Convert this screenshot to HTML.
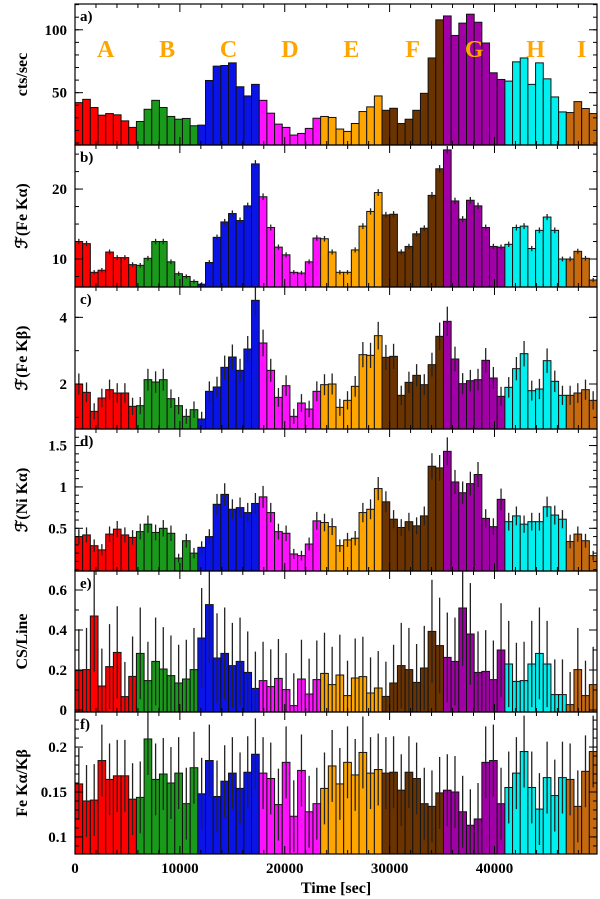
<!DOCTYPE html>
<html><head><meta charset="utf-8">
<style>
html,body{margin:0;padding:0;background:#fff;}
svg{display:block;font-family:"Liberation Serif",serif;}
</style></head>
<body>
<svg id="chart" width="600" height="899" viewBox="0 0 600 899" xmlns="http://www.w3.org/2000/svg"></svg>
<script>
const segColors = ["#ff0000","#1a9a1a","#0a14e6","#ff10ff","#ffa500","#6b3300","#a000a6","#00f0f0","#c66a10"];
const segLetters = ["A","B","C","D","E","F","G","H","I"];
const binSec = 732;
const xTickLabels = [0,10000,20000,30000,40000];

const rateA = [42.1,44.7,38.2,32.1,33.4,32.4,27.6,22.4, 27.1,36.8,43.9,38.2,31.1,28.9,29.5,23.7, 24.2,59.7,71.1,71.6,73.7,54.7,47.4,56.6, 43.9,33.7,25,22.4,16.3,17.6,21.6,29.7, 31.1,30.3,21.1,19.2,25.5,35,38.7,47.4, 36,37.6,25.5,28.9,36,49.5,77.6,107.9, 111,95.5,105.3,112.4,106,89.5,65.8,60.5, 59.2,74.5,77.6,56.6,73.7,61,46.6,34.7, 34.2,42.9,37.4,33.4];
const feKa = [12.5,12.2,8.1,8.4,11.0,10.2,10.2,9.2, 9.1,10.1,12.5,12.5,9.6,7.9,7.5,6.8, 6.4,9.5,13.1,15.3,16.5,15.5,17.6,23.6, 18.9,14.5,11.7,10.6,8.1,8.0,9.6,13.0, 12.9,11.0,8.1,8.1,11.3,14.7,16.8,19.5, 16.3,16.4,11.0,11.8,13.6,14.4,19.1,22.9, 25.6,18.3,15.7,18.4,17.6,14.5,11.8,11.7, 12.1,14.5,14.7,11.5,14.1,16.0,14.1,10.0, 10.0,11.1,10.1,7.0];
const feKb = [2.0,1.75,1.18,1.58,1.83,1.73,1.73,1.33, 1.35,2.13,2.06,2.13,1.56,1.35,1.03,1.23, 0.95,1.78,1.91,2.5,2.81,2.41,3.05,4.51, 3.23,2.41,1.6,1.95,1.03,1.43,1.25,1.78, 1.98,2.0,1.3,1.51,1.93,2.88,2.86,3.45, 2.8,2.83,1.66,2.05,2.26,1.98,2.58,3.43, 3.88,2.75,2.01,2.1,2.13,2.71,2.18,1.63, 1.9,2.46,2.91,1.8,1.85,2.7,2.08,1.66, 1.66,1.73,1.83,1.51];
const niKa = [0.40,0.42,0.29,0.24,0.43,0.49,0.42,0.39, 0.46,0.55,0.45,0.5,0.44,0.14,0.35,0.2, 0.27,0.4,0.79,0.91,0.73,0.75,0.69,0.8, 0.88,0.69,0.46,0.44,0.19,0.17,0.31,0.59, 0.57,0.52,0.29,0.36,0.38,0.69,0.73,0.98, 0.82,0.61,0.51,0.58,0.53,0.65,1.25,1.23, 1.43,1.06,0.93,1.04,1.15,0.62,0.52,0.85, 0.58,0.65,0.55,0.58,0.58,0.76,0.66,0.61, 0.34,0.43,0.35,0.17];
const csLine = [0.197,0.202,0.47,0.12,0.217,0.288,0.067,0.168, 0.283,0.147,0.243,0.205,0.172,0.135,0.155,0.202, 0.36,0.527,0.26,0.283,0.222,0.243,0.188,0.108, 0.147,0.117,0.158,0.102,0.022,0.155,0.08,0.152, 0.183,0.127,0.175,0.072,0.16,0.167,0.085,0.11, 0.068,0.135,0.222,0.202,0.138,0.21,0.393,0.322, 0.263,0.243,0.51,0.38,0.188,0.193,0.152,0.3, 0.23,0.143,0.147,0.23,0.283,0.23,0.077,0.077, 0.027,0.202,0.072,0.127];
const ratio = [0.159,0.14,0.141,0.185,0.164,0.168,0.168,0.142, 0.144,0.209,0.164,0.17,0.16,0.171,0.137,0.177, 0.148,0.185,0.145,0.162,0.171,0.154,0.172,0.192, 0.171,0.165,0.136,0.183,0.123,0.174,0.128,0.137, 0.154,0.179,0.159,0.183,0.169,0.194,0.171,0.175, 0.171,0.172,0.152,0.172,0.165,0.137,0.134,0.149, 0.152,0.15,0.128,0.113,0.12,0.183,0.185,0.137, 0.155,0.171,0.195,0.155,0.131,0.166,0.146,0.166, 0.164,0.134,0.173,0.195];

const NS="http://www.w3.org/2000/svg";
const svg=document.getElementById('chart');
const L=75,R=597;
const xMax=rateA.length*binSec;
const xs=t=>L+(t/xMax)*(R-L);
function mk(tag,attrs,parent){const e=document.createElementNS(NS,tag);for(const k in attrs)e.setAttribute(k,attrs[k]);(parent||svg).appendChild(e);return e;}

const panels=[
 {key:"a",data:rateA,top:4,bot:145,ymin:8.4,ymax:120.5,major:[50,100],minorStep:10,err:0,title:"cts/sec"},
 {key:"b",data:feKa,top:145,bot:287,ymin:6.0,ymax:26.3,major:[10,20],minorStep:2.5,err:0.4,title:"\u2131(Fe K\u03b1)"},
 {key:"c",data:feKb,top:287,bot:429,ymin:0.65,ymax:4.91,major:[2,4],minorStep:1,err:0.35,title:"\u2131(Fe K\u03b2)"},
 {key:"d",data:niKa,top:429,bot:571,ymin:-0.016,ymax:1.7,major:[0.5,1,1.5],minorStep:0.1,err:0.13,title:"\u2131(Ni K\u03b1)"},
 {key:"e",data:csLine,top:571,bot:712,ymin:-0.01,ymax:0.695,major:[0,0.2,0.4,0.6],minorStep:0.1,err:0.26,title:"CS/Line"},
 {key:"f",data:ratio,top:712,bot:854,ymin:0.081,ymax:0.239,major:[0.1,0.15,0.2],minorStep:0.01,err:0.04,title:"Fe K\u03b1/K\u03b2"}
];

panels.forEach((p)=>{
  const g=mk('g',{});
  
  
  const ys=v=>p.bot-(v-p.ymin)/(p.ymax-p.ymin)*(p.bot-p.top);
  const clip=mk('clipPath',{id:'clip'+p.key},g);
  mk('rect',{x:L,y:p.top,width:R-L,height:p.bot-p.top},clip);
  const bars=mk('g',{'clip-path':'url(#clip'+p.key+')'},g);
  p.data.forEach((v,i)=>{
    const x0=xs(i*binSec),x1=xs((i+1)*binSec);
    const r=mk('rect',{x:x0,y:ys(v),width:x1-x0,height:Math.max(0,p.bot-ys(v)),fill:segColors[Math.floor(i/8)],stroke:"#111","stroke-width":1},bars);
    
    
    if(p.err>0){
      const cx=(x0+x1)/2;
      const e=p.key==="e"?p.err*(0.6+v):(p.key==="f"?p.err:p.err*Math.sqrt(Math.max(v,0.05)/(p.ymax*0.5)));
      const ln=mk('line',{x1:cx,x2:cx,y1:ys(v+e),y2:ys(v-e),stroke:"#222","stroke-width":1.3},bars);
      
      
    }
  });
  const fr=mk('rect',{x:L,y:p.top,width:R-L,height:p.bot-p.top,fill:"none",stroke:"#000","stroke-width":1.2},g);
  
  
  for(let t=0;t<=xMax;t+=2000){
    const x=xs(t),len=(t%10000===0)?8:4;
    mk('line',{x1:x,x2:x,y1:p.bot,y2:p.bot-len,stroke:"#000","stroke-width":1},g);
    mk('line',{x1:x,x2:x,y1:p.top,y2:p.top+len,stroke:"#000","stroke-width":1},g);
  }
  const start=Math.ceil(p.ymin/p.minorStep)*p.minorStep;
  for(let v=start;v<=p.ymax+1e-9;v+=p.minorStep){
    const y=ys(v);
    mk('line',{x1:L,x2:L+4,y1:y,y2:y,stroke:"#000","stroke-width":1},g);
    mk('line',{x1:R,x2:R-4,y1:y,y2:y,stroke:"#000","stroke-width":1},g);
  }
  p.major.forEach(v=>{
    const y=ys(v);
    mk('line',{x1:L,x2:L+8,y1:y,y2:y,stroke:"#000","stroke-width":1},g);
    mk('line',{x1:R,x2:R-8,y1:y,y2:y,stroke:"#000","stroke-width":1},g);
    const tx=mk('text',{x:67,y:y+5,'text-anchor':'end','font-size':15,'font-weight':'bold'},g);
    tx.textContent=String(v);
    
    
  });
  const pl=mk('text',{x:80,y:p.top+17,'font-size':15,'font-weight':'bold'},g);
  pl.textContent=p.key+")";
  
  
  const cy=(p.top+p.bot)/2;
  const yt=mk('text',{x:0,y:0,'text-anchor':'middle','font-size':16,'font-weight':'bold',transform:`translate(27 ${cy}) rotate(-90)`},g);
  yt.textContent=p.title;
  
  
});

segLetters.forEach((s,k)=>{
  const n=Math.min(8,rateA.length-k*8);
  const cx=xs((k*8+n/2)*binSec);
  const t=mk('text',{x:cx,y:57,'text-anchor':'middle','font-size':24,'font-weight':'bold',fill:"#ffa500"});
  t.textContent=s;
  
  
});
xTickLabels.forEach(v=>{
  const t=mk('text',{x:xs(v),y:873,'text-anchor':'middle','font-size':15,'font-weight':'bold'});
  t.textContent=String(v);
  
  
});
const xt=mk('text',{x:336,y:893,'text-anchor':'middle','font-size':16,'font-weight':'bold'});
xt.textContent="Time [sec]";


</script>
</body></html>
